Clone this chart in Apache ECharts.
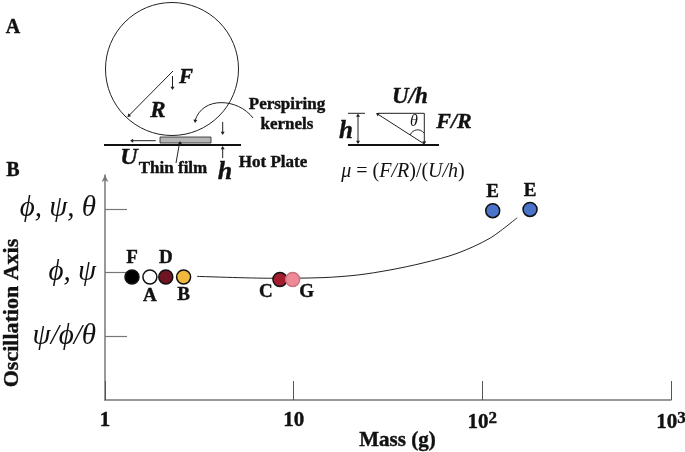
<!DOCTYPE html>
<html>
<head>
<meta charset="utf-8">
<style>html,body{margin:0;padding:0;background:#fff}#chart{width:685px;height:452px}</style>
<script src="https://cdn.jsdelivr.net/npm/echarts@6/dist/echarts.min.js"></script>
</head>
<body>
<div id="chart"></div>
<script>
// values
const pointNames = ['F', 'A', 'D', 'B', 'C', 'G', 'E', 'E'];
const pointMass = [1.39, 1.73, 2.1, 2.61, 8.46, 9.88, 113.5, 179];
const pointLevel = [1.93, 1.93, 1.93, 1.93, 1.89, 1.89, 2.97, 2.99];
const curveMass = [3.07, 7.77, 14.3, 21.7, 32.4, 48.5, 73.4, 110, 153];
const curveLevel = [1.94, 1.91, 1.92, 1.96, 2.04, 2.15, 2.3, 2.54, 2.86];
const levelTicks = [1, 2, 3];
const levelLabels = ['ψ/ϕ/θ', 'ϕ, ψ', 'ϕ, ψ, θ'];
const massTicks = [1, 10, 100, 1000];

const serif = '"Liberation Serif"';
const ink = '#111';
const axisGrey = '#777';

// colour and label placement per point
const pointFill = ['#000000', '#ffffff', '#6e1423', '#f0b83c', '#a31d2f', '#ee8a98', '#4a74c9', '#4a74c9'];
const pointEdge = ['#111', '#111', '#111', '#111', '#111', '#c9727f', '#111', '#111'];
const labelSide = ['top', 'bottom', 'top', 'bottom', 'bottom', 'bottom', 'top', 'top'];
const labelShift = [[0, 0], [0, 0], [0, 0], [0, -1], [-14, -7], [14, -7], [0, 1], [0, 1]];

const chart = echarts.init(document.getElementById('chart'));

function txt(x, y, text, size, italic) {
    return {
        type: 'text', x: x, y: y, silent: true,
        style: {
            text: text, fill: ink, align: 'center', verticalAlign: 'middle',
            stroke: ink, lineWidth: 0.4,
            font: (italic ? 'italic ' : '') + 'bold ' + size + 'px ' + serif
        }
    };
}
function seg(x1, y1, x2, y2, w, color) {
    return {
        type: 'line', silent: true,
        shape: { x1: x1, y1: y1, x2: x2, y2: y2 },
        style: { stroke: color || '#222', lineWidth: w || 1 }
    };
}
function head(x, y, dx, dy) {
    // small solid arrow head pointing along dx,dy
    const s = 2;
    return {
        type: 'polygon', silent: true,
        shape: { points: [[x, y], [x - dx * s * 1.6 - dy * s, y - dy * s * 1.6 + dx * s], [x - dx * s * 1.6 + dy * s, y - dy * s * 1.6 - dx * s]] },
        style: { fill: '#222' }
    };
}

// panel A schematic
const schematic = [
    txt(13, 28, 'A', 20), txt(13, 171, 'B', 20),
    { type: 'circle', silent: true, shape: { cx: 172, cy: 69, r: 66.5 }, style: { fill: 'none', stroke: '#222', lineWidth: 1 } },
    seg(173, 71, 128, 116.5), head(127.5, 117, -0.7, 0.7),
    seg(172.5, 76, 172.5, 88), head(172.5, 90, 0, 1),
    txt(186, 78, 'F', 21, true), txt(158, 111, 'R', 23, true),
    { type: 'rect', silent: true, shape: { x: 160, y: 137, width: 51, height: 6 }, style: { fill: '#b5b5b5', stroke: '#222', lineWidth: 0.8 } },
    seg(104, 145, 241, 145, 2, '#111'),
    seg(155.7, 140.7, 132, 140.7), head(130, 140.7, -1, 0),
    seg(176, 163, 179.5, 143), head(180, 141, 0, -1),
    seg(222.7, 122, 222.7, 133), head(222.7, 135, 0, 1),
    seg(222.7, 158, 222.7, 148), head(222.7, 146, 0, -1),
    {
        type: 'bezierCurve', silent: true,
        shape: { x1: 253, y1: 118, cpx1: 238, cpy1: 98, cpx2: 202, cpy2: 96, x2: 195, y2: 121 },
        style: { fill: 'none', stroke: '#222', lineWidth: 1 }
    },
    head(195, 123, -0.1, 1),
    txt(287, 105, 'Perspiring', 17), txt(287, 125, 'kernels', 17),
    txt(129, 158, 'U', 24, true), txt(173, 169, 'Thin film', 17),
    txt(225, 172, 'h', 26, true), txt(273, 163, 'Hot Plate', 17),
    // right hand triangle
    seg(348, 145, 439, 145, 2, '#111'),
    seg(348, 113.3, 365, 113.3),
    seg(358, 115, 358, 143), head(358, 113.5, 0, -1), head(358, 144, 0, 1),
    seg(378, 113.3, 424.3, 113.3), seg(424.3, 113.3, 424.3, 143), head(424.3, 144.5, 0, 1),
    seg(424.3, 144, 378, 114.3), head(376, 113, -0.85, -0.53),
    {
        type: 'bezierCurve', silent: true,
        shape: { x1: 410, y1: 135, cpx1: 413, cpy1: 129, cpx2: 420, cpy2: 128, x2: 424, y2: 133 },
        style: { fill: 'none', stroke: '#222', lineWidth: 1 }
    },
    {
        type: 'text', x: 414, y: 122, silent: true,
        style: { text: 'θ', fill: ink, align: 'center', verticalAlign: 'middle', font: 'italic 16px ' + serif }
    },
    txt(410, 97, 'U/h', 23, true), txt(454, 122, 'F/R', 22, true), txt(346, 132, 'h', 25, true),
    {
        type: 'text', x: 403, y: 172, silent: true,
        style: {
            text: '{i|μ} = ({i|F/R})/({i|U/h})', fill: ink, align: 'center', verticalAlign: 'middle',
            font: '20px ' + serif,
            rich: { i: { font: 'italic 20px ' + serif, fill: ink } }
        }
    }
];

const option = {
    animation: false,
    backgroundColor: '#fff',
    grid: { left: 105, right: 14, top: 175, bottom: 52, outerBoundsMode: 'none' },
    xAxis: {
        type: 'log', min: 1, max: 1000, logBase: 10,
        name: 'Mass (g)', nameLocation: 'middle', nameGap: 30, nameMoveOverlap: false,
        nameTextStyle: { fontFamily: serif, fontWeight: 'bold', fontSize: 21, color: ink, padding: [0, 0, 0, 19], textBorderColor: ink, textBorderWidth: 0.4 },
        splitLine: { show: false }, minorTick: { show: false },
        axisLine: { lineStyle: { color: axisGrey, width: 1.5 } },
        axisTick: { show: true, inside: true, length: 19, lineStyle: { color: '#555', width: 1 } },
        axisLabel: {
            margin: 10, color: ink, fontFamily: serif, fontWeight: 'bold', fontSize: 21, textBorderColor: ink, textBorderWidth: 0.4,
            formatter: function (v) {
                if (massTicks.indexOf(v) < 2) return String(v);
                return '10{s|' + Math.round(Math.log10(v)) + '}';
            },
            rich: { s: { fontFamily: serif, fontWeight: 'bold', fontSize: 17, verticalAlign: 'top', color: ink, padding: [0, 0, 8, 0] } }
        }
    },
    yAxis: {
        type: 'value', min: 0, max: 3.53,
        name: 'Oscillation Axis', nameLocation: 'middle', nameGap: 82, nameMoveOverlap: false,
        nameTextStyle: { fontFamily: serif, fontWeight: 'bold', fontSize: 22, color: ink, padding: [0, 51, 0, 0], textBorderColor: ink, textBorderWidth: 0.4 },
        splitLine: { show: false },
        axisLine: { show: true, symbol: ['none', 'arrow'], symbolSize: [5, 7], lineStyle: { color: axisGrey, width: 1.5 } },
        axisTick: { show: true, inside: true, length: 22, customValues: levelTicks, lineStyle: { color: axisGrey, width: 1.2 } },
        axisLabel: {
            margin: 9, color: ink, fontFamily: serif, fontStyle: 'italic', fontSize: 29,
            customValues: levelTicks,
            formatter: function (v) { return levelLabels[levelTicks.indexOf(v)]; }
        }
    },
    graphic: schematic,
    series: [
        {
            type: 'line', smooth: 0.3, symbol: 'none', silent: true, z: 1,
            lineStyle: { color: '#222', width: 1 },
            data: curveMass.map(function (m, i) { return [m, curveLevel[i]]; })
        },
        {
            type: 'scatter', symbolSize: 14, silent: true, z: 3,
            data: pointMass.map(function (m, i) {
                return {
                    value: [m, pointLevel[i]],
                    itemStyle: { opacity: 1, color: pointFill[i], borderColor: pointEdge[i], borderWidth: 1.5 },
                    label: {
                        show: true, formatter: pointNames[i], position: labelSide[i], offset: labelShift[i],
                        distance: 2, color: ink, fontFamily: serif, fontWeight: 'bold', fontSize: 19,
                        textBorderColor: ink, textBorderWidth: 0.4
                    }
                };
            })
        }
    ]
};
chart.setOption(option);
</script>
</body>
</html>
